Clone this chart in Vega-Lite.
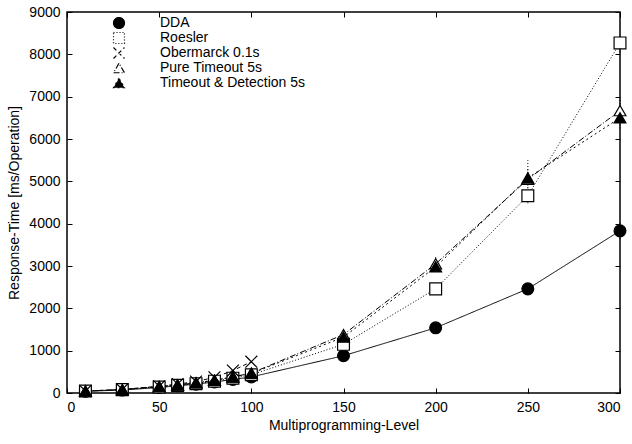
{
  "$schema": "https://vega.github.io/schema/vega-lite/v6.json",
  "width": 553,
  "height": 381,
  "autosize": {"type": "none"},
  "padding": {"left": 67, "top": 12, "right": 12, "bottom": 51},
  "background": "white",
  "config": {
    "font": "Liberation Sans",
    "view": {"stroke": "black", "strokeWidth": 1.5},
    "axis": {"grid": false, "domain": false, "tickColor": "black", "labelColor": "black", "titleColor": "black", "labelFontSize": 14, "titleFontSize": 14, "titleFontWeight": "normal", "labelFont": "Liberation Sans", "titleFont": "Liberation Sans", "format": "d"}
  },
  "data": {"values": [
    {"x": 10, "s": "DDA", "y": 40}, {"x": 30, "s": "DDA", "y": 70}, {"x": 50, "s": "DDA", "y": 130}, {"x": 60, "s": "DDA", "y": 170}, {"x": 70, "s": "DDA", "y": 210}, {"x": 80, "s": "DDA", "y": 260}, {"x": 90, "s": "DDA", "y": 320}, {"x": 100, "s": "DDA", "y": 380}, {"x": 150, "s": "DDA", "y": 880}, {"x": 200, "s": "DDA", "y": 1540}, {"x": 250, "s": "DDA", "y": 2460, "lo": 2340, "hi": 2590}, {"x": 300, "s": "DDA", "y": 3830, "lo": 3640, "hi": 4030},
    {"x": 10, "s": "Roesler", "y": 45}, {"x": 30, "s": "Roesler", "y": 80}, {"x": 50, "s": "Roesler", "y": 140}, {"x": 60, "s": "Roesler", "y": 180}, {"x": 70, "s": "Roesler", "y": 220}, {"x": 80, "s": "Roesler", "y": 280}, {"x": 90, "s": "Roesler", "y": 350}, {"x": 100, "s": "Roesler", "y": 430}, {"x": 150, "s": "Roesler", "y": 1150}, {"x": 200, "s": "Roesler", "y": 2460}, {"x": 250, "s": "Roesler", "y": 4660, "lo": 4480, "hi": 4850}, {"x": 300, "s": "Roesler", "y": 8270, "lo": 8050, "hi": 8480},
    {"x": 10, "s": "Obermarck 0.1s", "y": 45}, {"x": 30, "s": "Obermarck 0.1s", "y": 85}, {"x": 50, "s": "Obermarck 0.1s", "y": 160}, {"x": 60, "s": "Obermarck 0.1s", "y": 210}, {"x": 70, "s": "Obermarck 0.1s", "y": 270}, {"x": 80, "s": "Obermarck 0.1s", "y": 370}, {"x": 90, "s": "Obermarck 0.1s", "y": 530}, {"x": 100, "s": "Obermarck 0.1s", "y": 740},
    {"x": 10, "s": "Pure Timeout 5s", "y": 45}, {"x": 30, "s": "Pure Timeout 5s", "y": 80}, {"x": 50, "s": "Pure Timeout 5s", "y": 150}, {"x": 60, "s": "Pure Timeout 5s", "y": 190}, {"x": 70, "s": "Pure Timeout 5s", "y": 240}, {"x": 80, "s": "Pure Timeout 5s", "y": 300}, {"x": 90, "s": "Pure Timeout 5s", "y": 380}, {"x": 100, "s": "Pure Timeout 5s", "y": 470}, {"x": 150, "s": "Pure Timeout 5s", "y": 1380}, {"x": 200, "s": "Pure Timeout 5s", "y": 3050, "lo": 2900, "hi": 3220}, {"x": 250, "s": "Pure Timeout 5s", "y": 5050, "lo": 4700, "hi": 5500}, {"x": 300, "s": "Pure Timeout 5s", "y": 6670, "lo": 6400, "hi": 6950},
    {"x": 10, "s": "Timeout & Detection 5s", "y": 45}, {"x": 30, "s": "Timeout & Detection 5s", "y": 80}, {"x": 50, "s": "Timeout & Detection 5s", "y": 150}, {"x": 60, "s": "Timeout & Detection 5s", "y": 190}, {"x": 70, "s": "Timeout & Detection 5s", "y": 240}, {"x": 80, "s": "Timeout & Detection 5s", "y": 300}, {"x": 90, "s": "Timeout & Detection 5s", "y": 380}, {"x": 100, "s": "Timeout & Detection 5s", "y": 460}, {"x": 150, "s": "Timeout & Detection 5s", "y": 1320}, {"x": 200, "s": "Timeout & Detection 5s", "y": 2980}, {"x": 250, "s": "Timeout & Detection 5s", "y": 5080, "lo": 4900, "hi": 5300}, {"x": 300, "s": "Timeout & Detection 5s", "y": 6500, "lo": 6250, "hi": 6750}
  ]},
  "resolve": {"axis": {"x": "independent", "y": "independent"}},
  "layer": [
    {
      "transform": [{"filter": "isValid(datum.lo)"}],
      "mark": {"type": "rule", "color": "black", "strokeWidth": 1, "strokeDash": [1, 2]},
      "encoding": {
        "x": {"field": "x", "type": "quantitative", "scale": {"domain": [0, 300], "nice": false, "zero": false}, "axis": {"orient": "top", "title": null, "labels": false, "values": [0, 50, 100, 150, 200, 250, 300], "tickSize": -5}},
        "y": {"field": "lo", "type": "quantitative", "scale": {"domain": [0, 9000], "nice": false}, "axis": {"orient": "right", "title": null, "labels": false, "values": [0, 1000, 2000, 3000, 4000, 5000, 6000, 7000, 8000, 9000], "tickSize": -5}},
        "y2": {"field": "hi"}
      }
    },
    {
      "mark": {"type": "line", "color": "black", "strokeWidth": 1},
      "encoding": {
        "x": {"field": "x", "type": "quantitative", "scale": {"domain": [0, 300], "nice": false, "zero": false}, "axis": {"title": "Multiprogramming-Level", "values": [0, 50, 100, 150, 200, 250, 300], "tickSize": -5, "labelPadding": 12, "titlePadding": 4}},
        "y": {"field": "y", "type": "quantitative", "scale": {"domain": [0, 9000], "nice": false}, "axis": {"title": "Response-Time [ms/Operation]", "values": [0, 1000, 2000, 3000, 4000, 5000, 6000, 7000, 8000, 9000], "tickSize": -5, "labelPadding": 12, "titlePadding": 7}},
        "detail": {"field": "s"},
        "strokeDash": {"field": "s", "type": "nominal", "title": null, "scale": {"domain": ["DDA", "Roesler", "Obermarck 0.1s", "Pure Timeout 5s", "Timeout & Detection 5s"], "range": [[1, 0], [1, 2], [4, 3], [6, 2, 1, 2], [2, 3]]}}
      }
    },
    {
      "mark": {"type": "point", "stroke": "black", "strokeWidth": 1.2, "opacity": 1, "size": 140},
      "encoding": {
        "x": {"field": "x", "type": "quantitative", "axis": null},
        "y": {"field": "y", "type": "quantitative", "axis": null},
        "shape": {"field": "s", "type": "nominal", "title": null, "scale": {"domain": ["DDA", "Roesler", "Obermarck 0.1s", "Pure Timeout 5s", "Timeout & Detection 5s"], "range": ["circle", "square", "M-1,-1L1,1M-1,1L1,-1", "triangle-up", "triangle-up"]},
          "legend": {"orient": "none", "legendX": 45, "legendY": 4, "labelFontSize": 14, "labelColor": "black", "symbolSize": 120, "symbolStrokeColor": "black", "symbolStrokeWidth": 1.2, "rowPadding": -4, "labelOffset": 34, "padding": 0}},
        "fill": {"field": "s", "type": "nominal", "title": null, "scale": {"domain": ["DDA", "Roesler", "Obermarck 0.1s", "Pure Timeout 5s", "Timeout & Detection 5s"], "range": ["black", "white", "transparent", "white", "black"]}}
      }
    }
  ]
}
